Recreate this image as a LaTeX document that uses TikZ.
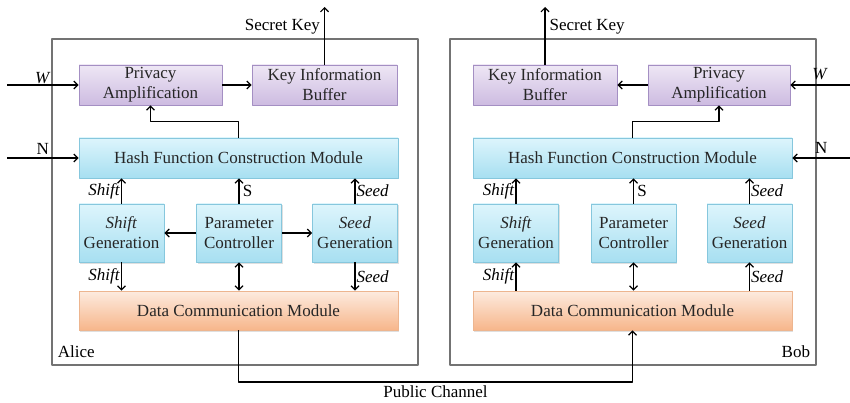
\documentclass[tikz,border=0pt]{standalone}
\usepackage{fontspec}
\setmainfont{Liberation Serif}
\usetikzlibrary{arrows.meta}
\usetikzlibrary{shadows}

\definecolor{PurpleTop}{HTML}{EEE7F5}
\definecolor{PurpleBot}{HTML}{CDBBE1}
\definecolor{PurpleLine}{HTML}{A48FC3}
\definecolor{CyanTop}{HTML}{DDF5FC}
\definecolor{CyanBot}{HTML}{A7DFF1}
\definecolor{CyanLine}{HTML}{86C7DD}
\definecolor{OrangeTop}{HTML}{FDEBDF}
\definecolor{OrangeBot}{HTML}{F7B68B}
\definecolor{OrangeLine}{HTML}{EDB58F}

\tikzset{
  box/.style={draw, line width=0.8pt, inner sep=0pt, align=center, text=black!85,
    drop shadow={shadow xshift=1.2pt, shadow yshift=-1.5pt, opacity=0.25}},
  purplebox/.style={box, draw=PurpleLine, top color=PurpleTop, bottom color=PurpleBot,
    minimum width=143pt, minimum height=40pt},
  cyanbox/.style={box, draw=CyanLine, top color=CyanTop, bottom color=CyanBot,
    minimum width=319pt, minimum height=40pt},
  genbox/.style={cyanbox, minimum width=85pt, minimum height=58pt},
  orangebox/.style={box, draw=OrangeLine, top color=OrangeTop, bottom color=OrangeBot,
    minimum width=319pt, minimum height=39pt},
  frame/.style={draw=black!55, line width=1.2pt}
}

\begin{document}
\begin{tikzpicture}[x=1pt, y=-1pt, line join=round, line width=1.2pt,
  >={Straight Barb[length=4pt,width=8pt]}, font=\fontsize{17}{20}\selectfont]
\useasboundingbox (0,0) rectangle (850,403);

% outer frames
\draw[frame] (52,39) rectangle (418,365);
\draw[frame] (450,39) rectangle (816,365);
\node[anchor=west] (alice) at (54,352) {Alice};
\node[anchor=east] (bob) at (814,352) {Bob};

% Alice
\node[purplebox] (paA) at (150.5,85) {Privacy\\Amplification};
\node[purplebox, minimum width=145pt] (kibA) at (324.5,85) {Key Information\\Buffer};
\node[cyanbox] (hashA) at (238.5,158) {Hash Function Construction Module};
\node[genbox] (shiftA) at (121.5,233) {\textit{Shift}\\Generation};
\node[genbox] (paramA) at (239,233) {Parameter\\Controller};
\node[genbox] (seedA) at (355,233) {\textit{Seed}\\Generation};
\node[orangebox] (dcmA) at (238.5,310.5) {Data Communication Module};

\coordinate (wA) at (7,85);
\coordinate (nA) at (7,158);
\coordinate (skA) at (324.5,7);
\draw[->] (wA) -- node[above, inner sep=1pt] {\textit{W}} (paA.west);
\draw[->] (nA) -- node[above] {N} (hashA.west);
\draw[->] (kibA.north) -- node[left, pos=0.65, inner sep=4pt] {Secret Key} (skA);
\draw[->] (paA) -- (kibA);
\draw[->] (hashA.north) -- ++(0,-16) -| (paA.south);
\draw[->] (shiftA.north) -- node[left, inner sep=1pt] {\textit{Shift}} (shiftA.north |- hashA.south);
\draw[->] (paramA.north) -- node[right] {S} (paramA.north |- hashA.south);
\draw[->] (seedA.north) -- node[right, inner sep=1pt] {\textit{Seed}} (seedA.north |- hashA.south);
\draw[->] (paramA) -- (shiftA);
\draw[->] (paramA) -- (seedA);
\draw[<->] (paramA.south) -- (paramA.south |- dcmA.north);
\draw[->] (shiftA.south) -- node[left, inner sep=1pt] {\textit{Shift}} (shiftA.south |- dcmA.north);
\draw[->] (seedA.south) -- node[right, inner sep=1pt] {\textit{Seed}} (seedA.south |- dcmA.north);

% Bob
\node[purplebox, minimum width=144pt] (kibB) at (545,85) {Key Information\\Buffer};
\node[purplebox, minimum width=142pt] (paB) at (719,85) {Privacy\\Amplification};
\node[cyanbox] (hashB) at (632.5,158) {Hash Function Construction Module};
\node[genbox] (shiftB) at (516,233) {\textit{Shift}\\Generation};
\node[genbox] (paramB) at (633.5,233) {Parameter\\Controller};
\node[genbox] (seedB) at (749.5,233) {\textit{Seed}\\Generation};
\node[orangebox] (dcmB) at (632.5,310.5) {Data Communication Module};

\coordinate (wB) at (850,85);
\coordinate (nB) at (850,158);
\coordinate (skB) at (545,7);
\draw[->] (wB) -- node[above, inner sep=5pt] {\textit{W}} (paB.east);
\draw[->] (nB) -- node[above, inner sep=4pt] {N} (hashB.east);
\draw[->] (kibB.north) -- node[right, pos=0.65, inner sep=4pt] {Secret Key} (skB);
\draw[->] (paB) -- (kibB);
\draw[->] (hashB.north) -- ++(0,-16) -| (paB.south);
\draw[->] (shiftB.north) -- node[left, inner sep=1pt] {\textit{Shift}} (shiftB.north |- hashB.south);
\draw[->] (paramB.north) -- node[right] {S} (paramB.north |- hashB.south);
\draw[->] (seedB.north) -- node[right, inner sep=1pt] {\textit{Seed}} (seedB.north |- hashB.south);
\draw[<->] (paramB.south) -- (paramB.south |- dcmB.north);
\draw[->] (shiftB.south |- dcmB.north) -- node[left, inner sep=1pt] {\textit{Shift}} (shiftB.south);
\draw[->] (seedB.south |- dcmB.north) -- node[right, inner sep=1pt] {\textit{Seed}} (seedB.south);

% public channel
\coordinate (chanA) at (238.5,382);
\draw[->] (dcmA.south) -- (chanA) -| node[pos=0.25, below] {Public Channel} (dcmB.south);
\end{tikzpicture}
\end{document}
